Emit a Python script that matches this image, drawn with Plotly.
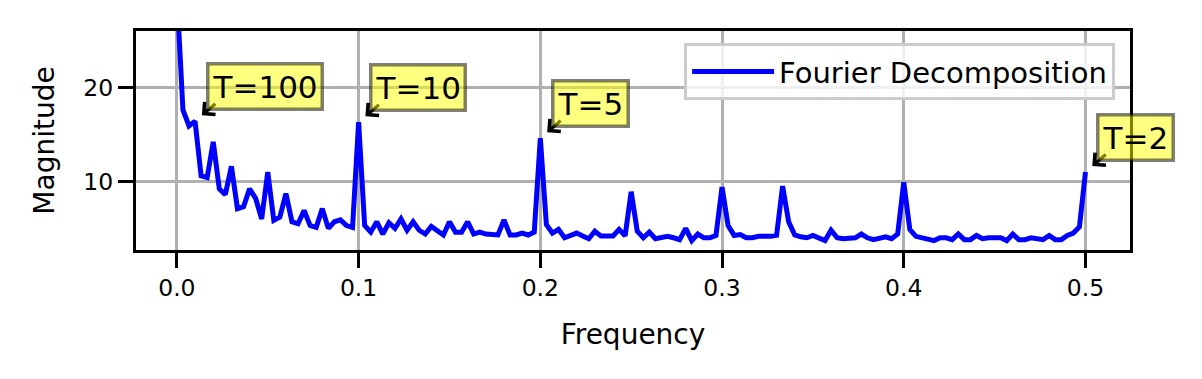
import plotly.graph_objects as go

# ---- data ----
N_SAMPLES = 300
magnitude = [
    30.0, 17.6, 15.9, 16.4, 10.6, 10.4, 14.2, 9.2, 8.6, 11.6,
    7.1, 7.3, 9.2, 8.2, 6.0, 11.0, 5.85, 6.2, 8.7, 5.7,
    5.5, 6.9, 5.3, 5.1, 7.1, 5.0, 5.7, 5.9, 5.3, 5.1,
    16.3, 5.3, 4.6, 5.7, 4.4, 5.6, 5.0, 6.0, 4.8, 5.7,
    4.8, 4.4, 5.2, 4.8, 4.3, 5.7, 4.6, 4.6, 5.7, 4.4,
    4.6, 4.4, 4.3, 4.3, 5.9, 4.3, 4.3, 4.5, 4.3, 4.6,
    14.6, 5.4, 4.5, 4.9, 4.0, 4.3, 4.5, 4.2, 3.9, 4.7,
    4.2, 4.2, 4.2, 4.9, 4.2, 8.9, 4.7, 4.0, 4.6, 3.9,
    4.0, 4.15, 4.0, 3.8, 5.0, 3.7, 4.4, 4.0, 4.0, 4.25,
    9.4, 5.3, 4.25, 4.35, 4.0, 4.0, 4.15, 4.1, 4.15, 4.25,
    9.5, 5.7, 4.3, 4.1, 4.0, 4.25, 3.9, 3.7, 4.8, 4.0,
    3.9, 4.0, 4.0, 4.4, 4.0, 3.8, 4.0, 4.1, 3.9, 4.4,
    9.9, 4.9, 4.15, 4.0, 3.8, 3.7, 4.0, 4.0, 3.8, 4.4,
    3.8, 3.8, 4.25, 3.9, 4.0, 4.0, 4.0, 3.7, 4.4, 3.8,
    3.8, 4.0, 3.9, 3.8, 4.25, 3.8, 3.8, 4.25, 4.5, 5.15,
    11.0,
]
freq = [k / N_SAMPLES for k in range(len(magnitude))]

periods = [100, 10, 5, 2]
period_labels = ["T=100", "T=10", "T=5", "T=2"]

x_ticks = [0.0, 0.1, 0.2, 0.3, 0.4, 0.5]
x_tick_labels = ["0.0", "0.1", "0.2", "0.3", "0.4", "0.5"]
y_ticks = [10, 20]
y_tick_labels = ["10", "20"]

FONT = "DejaVu Sans"

fig = go.Figure()
fig.add_trace(go.Scatter(
    x=freq, y=magnitude, mode="lines",
    line=dict(color="#0000ff", width=5),
    name="Fourier Decomposition",
))

TEXT_DX, TEXT_DY = 0.012, 2.0
annotations = []
# arrows first (drawn beneath the semi-transparent boxes)
for p in periods:
    i = round(N_SAMPLES / p)
    fx, fy = freq[i], magnitude[i]
    annotations.append(dict(
        x=fx, y=fy, xref="x", yref="y",
        ax=fx + TEXT_DX, ay=fy + TEXT_DY, axref="x", ayref="y",
        text="", font=dict(size=1),
        showarrow=True, arrowhead=4, arrowsize=1.0, arrowwidth=3.2,
        arrowcolor="black", standoff=9,
    ))
for p, lab in zip(periods, period_labels):
    i = round(N_SAMPLES / p)
    fx, fy = freq[i], magnitude[i]
    annotations.append(dict(
        x=fx + TEXT_DX, y=fy + TEXT_DY, xref="x", yref="y",
        text=lab, showarrow=False, xanchor="left", yanchor="bottom",
        xshift=-11, yshift=-9,
        font=dict(family=FONT, size=31, color="black"),
        bgcolor="rgba(255,255,0,0.5)", bordercolor="rgba(0,0,0,0.5)",
        borderwidth=3.5, borderpad=3,
    ))

axis_common = dict(
    showline=True, mirror=True, linecolor="black", linewidth=3.3,
    ticks="outside", ticklen=15, tickwidth=3.3, tickcolor="black",
    showgrid=True, gridcolor="#b0b0b0", gridwidth=3,
    zeroline=False,
    tickfont=dict(family=FONT, size=23.5, color="black"),
)

fig.update_layout(
    width=1202, height=379,
    margin=dict(l=136, r=72, t=31, b=129, autoexpand=False),
    paper_bgcolor="white", plot_bgcolor="white",
    font=dict(family=FONT, color="black"),
    showlegend=True,
    legend=dict(
        x=0.985, y=0.945, xanchor="right", yanchor="top",
        bgcolor="rgba(255,255,255,0.8)", bordercolor="#cccccc", borderwidth=3,
        font=dict(family=FONT, size=29, color="black"),
        itemwidth=82,
    ),
    annotations=annotations,
    xaxis=dict(
        range=[-0.0225, 0.5245], tickvals=x_ticks, ticktext=x_tick_labels,
        title=dict(text="Frequency", font=dict(family=FONT, size=28, color="black"), standoff=24),
        automargin=False, **axis_common,
    ),
    yaxis=dict(
        range=[2.7, 26.0], tickvals=y_ticks, ticktext=y_tick_labels,
        title=dict(text="Magnitude", font=dict(family=FONT, size=28, color="black"), standoff=21),
        automargin=False, **axis_common,
    ),
)

fig.write_html("out.html")
